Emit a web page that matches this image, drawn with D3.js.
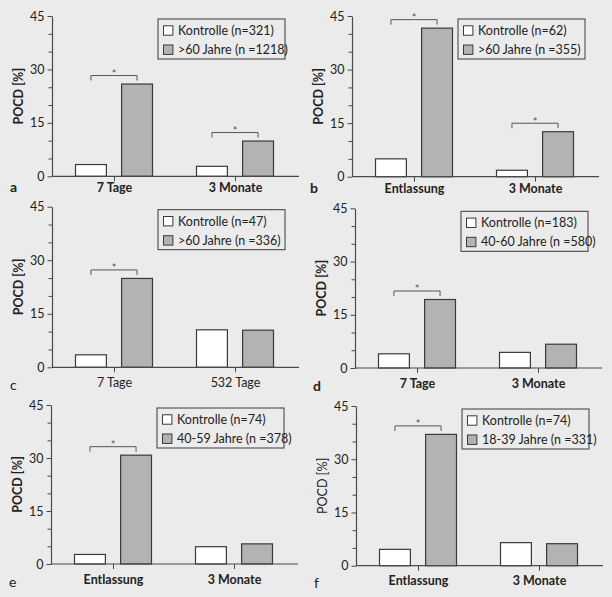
<!DOCTYPE html>
<html>
<head>
<meta charset="utf-8">
<script src="https://cdn.jsdelivr.net/npm/d3@7"></script>
<style>
  html, body { margin: 0; padding: 0; background: #ebebeb; }
  svg { display: block; }
  text { font-family: Lato, "Open Sans", sans-serif; fill: #222; }
</style>
</head>
<body>
<svg id="chart" width="612" height="597"></svg>
<script>
// ---------- data ----------
const panelLetters = ["a", "b", "c", "d", "e", "f"];
const categories = [
  ["7 Tage", "3 Monate"],
  ["Entlassung", "3 Monate"],
  ["7 Tage", "532 Tage"],
  ["7 Tage", "3 Monate"],
  ["Entlassung", "3 Monate"],
  ["Entlassung", "3 Monate"]
];
const legendKontrolle = ["Kontrolle (n=321)", "Kontrolle (n=62)", "Kontrolle (n=47)",
                         "Kontrolle (n=183)", "Kontrolle (n=74)", "Kontrolle (n=74)"];
const legendGruppe = [">60 Jahre (n =1218)", ">60 Jahre (n =355)", ">60 Jahre (n =336)",
                      "40-60 Jahre (n =580)", "40-59 Jahre (n =378)", "18-39 Jahre (n =331)"];
const kontrolleValues = [[3.3, 2.8], [5.0, 1.8], [3.5, 10.5], [4.0, 4.4], [2.7, 4.9], [4.6, 6.5]];
const gruppeValues = [[25.9, 9.9], [41.6, 12.6], [24.9, 10.4], [19.3, 6.7], [30.8, 5.7], [37.0, 6.2]];
const significant = [[true, true], [true, true], [true, false], [true, false], [true, false], [true, false]];
const yMajorTicks = [0, 15, 30, 45];
const yMinorTicks = [5, 10, 20, 25, 35, 40];
const yLabel = "POCD [%]";

// ---------- layout (positions / styles) ----------
const layout = [
  { ax: 52,  top: 16,    bottom: 176.3, labelDy: 16, letterDy: 16,  boldX: true,  boldY: true,  boldL: true },
  { ax: 352, top: 16,    bottom: 176.7, labelDy: 16, letterDy: 16,  boldX: true,  boldY: true,  boldL: true },
  { ax: 52,  top: 206.7, bottom: 367.3, labelDy: 20, letterDy: 22.5, boldX: false, boldY: true,  boldL: false },
  { ax: 355, top: 208.3, bottom: 368,   labelDy: 20, letterDy: 22.5, boldX: true,  boldY: true,  boldL: true },
  { ax: 51,  top: 405,   bottom: 564,   labelDy: 20, letterDy: 22.5, boldX: true,  boldY: true,  boldL: false },
  { ax: 356, top: 406,   bottom: 565.7, labelDy: 19, letterDy: 22,  boldX: true,  boldY: false, boldL: false }
];

const axisColor = "#4a4a4a";
const barStroke = "#3a3a3a";
const fills = ["#ffffff", "#b3b3b3"];
const seriesKeys = ["k", "g"];

const svg = d3.select("#chart");

layout.forEach((L, i) => {
  const g = svg.append("g");
  const y = d3.scaleLinear().domain([0, 45]).range([L.bottom, L.top]);
  const x = d3.scalePoint().domain(categories[i]).range([L.ax + 62, L.ax + 183]);
  const xs = d3.scaleBand().domain(seriesKeys).range([-38.5, 38.5]).paddingInner(0.33);

  // bars
  const rows = categories[i].map((c, j) => ({ cat: c, k: kontrolleValues[i][j], g: gruppeValues[i][j], sig: significant[i][j] }));
  rows.forEach(r => {
    seriesKeys.forEach((s, si) => {
      g.append("rect")
        .attr("x", x(r.cat) + xs(s))
        .attr("y", y(r[s]))
        .attr("width", xs.bandwidth())
        .attr("height", y(0) - y(r[s]))
        .attr("fill", fills[si])
        .attr("stroke", barStroke)
        .attr("stroke-width", 1.2);
    });
    if (r.sig) {
      const x1 = x(r.cat) + xs("k") + xs.bandwidth() / 2;
      const x2 = x(r.cat) + xs("g") + xs.bandwidth() / 2;
      const by = y(Math.max(r.k, r.g)) - 8.5;
      g.append("path")
        .attr("d", `M${x1},${by + 5}V${by}H${x2}V${by + 5}`)
        .attr("fill", "none").attr("stroke", "#555").attr("stroke-width", 1);
      g.append("text")
        .attr("x", (x1 + x2) / 2).attr("y", by + 2.3)
        .attr("text-anchor", "middle")
        .style("font-size", "11px").style("fill", "#555")
        .text("*");
    }
  });

  // y axis minor
  const yMinor = g.append("g").attr("transform", `translate(${L.ax},0)`)
    .call(d3.axisLeft(y).tickValues(yMinorTicks).tickSize(3.5).tickSizeOuter(0).tickFormat(""));
  yMinor.select(".domain").remove();
  const yMajor = g.append("g").attr("transform", `translate(${L.ax},0)`)
    .call(d3.axisLeft(y).tickValues(yMajorTicks).tickSize(4.5).tickSizeOuter(0).tickPadding(3));
  [yMinor, yMajor].forEach(a => {
    a.selectAll("line").attr("stroke", axisColor);
    a.select(".domain").attr("stroke", axisColor).attr("stroke-width", 1.2);
  });
  yMajor.selectAll("text").style("font-size", "12.5px").style("font-family", "Lato, sans-serif").attr("fill", "#222");

  // x axis
  const xa = g.append("g").attr("transform", `translate(0,${y(0)})`)
    .call(d3.axisBottom(x).tickSize(5).tickPadding(L.labelDy - 14));
  xa.select(".domain").remove();
  xa.selectAll("line").attr("stroke", axisColor);
  xa.selectAll("text")
    .style("font-size", "12.5px").style("font-family", "Lato, sans-serif")
    .style("font-weight", L.boldX ? "bold" : "normal").attr("fill", "#222");
  g.append("line")
    .attr("x1", L.ax).attr("x2", L.ax + 247)
    .attr("y1", y(0)).attr("y2", y(0))
    .attr("stroke", axisColor).attr("stroke-width", 1.2);

  // y label
  g.append("text")
    .attr("transform", `translate(${L.ax - 29},${(L.top + L.bottom) / 2}) rotate(-90)`)
    .attr("text-anchor", "middle")
    .style("font-size", "12.5px")
    .style("font-weight", L.boldY ? "bold" : "normal")
    .text(yLabel);

  // panel letter
  g.append("text")
    .attr("x", L.ax - 42).attr("y", L.bottom + L.letterDy)
    .style("font-size", "14px")
    .style("font-weight", L.boldL ? "bold" : "normal")
    .text(panelLetters[i]);

  // legend
  const lx = L.ax + 106, ly = L.top + 3;
  g.append("rect").attr("x", lx).attr("y", ly).attr("width", 127).attr("height", 40)
    .attr("fill", "none").attr("stroke", "#3a3a3a").attr("stroke-width", 1);
  [legendKontrolle[i], legendGruppe[i]].forEach((t, k) => {
    const cy = ly + 11.5 + k * 19.2;
    g.append("rect").attr("x", lx + 5.5).attr("y", cy - 4.7).attr("width", 9.4).attr("height", 9.4)
      .attr("fill", fills[k]).attr("stroke", "#3a3a3a").attr("stroke-width", 1);
    g.append("text").attr("x", lx + 20).attr("y", cy + 4.3)
      .style("font-size", "12.5px").text(t);
  });
});
</script>
</body>
</html>
